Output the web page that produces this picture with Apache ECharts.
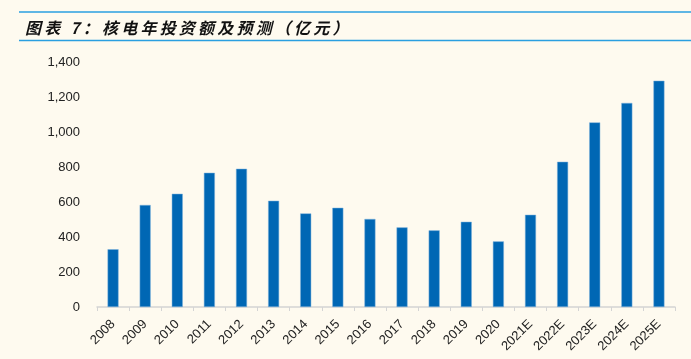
<!DOCTYPE html>
<html><head><meta charset="utf-8">
<script src="https://cdn.jsdelivr.net/npm/echarts@6/dist/echarts.min.js"></script>
<style>html,body{margin:0;padding:0;background:#FEFAEF;}#c{width:691px;height:359px;}</style>
</head><body><div id="c"></div>
<script>
const categories = ['2008','2009','2010','2011','2012','2013','2014','2015','2016','2017','2018','2019','2020','2021E','2022E','2023E','2024E','2025E'];
const values = [330, 583, 647, 767, 790, 607, 535, 567, 503, 455, 438, 487, 375, 527, 830, 1055, 1166, 1293];
const yTicks = [0, 200, 400, 600, 800, 1000, 1200, 1400];
const titleText = '图表 7：核电年投资额及预测（亿元）';

// spread characters slightly like the reference title
const spaced = Array.from(titleText).join('\u2009');

const chart = echarts.init(document.getElementById('c'), null, {renderer: 'canvas'});
chart.setOption({
  backgroundColor: '#FEFAEF',
  animation: false,
  title: {
    text: spaced, left: 20, top: 15,
    textStyle: {fontFamily: 'Noto Sans CJK SC', fontStyle: 'italic', fontWeight: 'bold', fontSize: 16, color: '#111'}
  },
  graphic: [
    {type: 'line', shape: {x1: 19, y1: 12, x2: 691, y2: 12}, style: {stroke: '#2A9FE0', lineWidth: 1.5}},
    {type: 'line', shape: {x1: 19, y1: 40.5, x2: 691, y2: 40.5}, style: {stroke: '#2A9FE0', lineWidth: 1.5}}
  ],
  grid: {left: 97, right: 16, top: 62, bottom: 52},
  xAxis: {
    type: 'category', data: categories,
    axisLine: {lineStyle: {color: '#D4D4D4', width: 1.5}},
    axisTick: {show: true, alignWithLabel: false, length: 4, lineStyle: {color: '#D4D4D4'}},
    axisLabel: {rotate: 45, fontFamily: 'Liberation Sans', fontSize: 13, color: '#222', margin: 15}
  },
  yAxis: {
    type: 'value', min: yTicks[0], max: yTicks[yTicks.length-1], interval: 200,
    axisLine: {show: false}, axisTick: {show: false}, splitLine: {show: false},
    axisLabel: {fontFamily: 'Liberation Sans', fontSize: 13, color: '#222', margin: 17,
      formatter: v => v.toLocaleString('en-US')}
  },
  series: [{
    type: 'bar', data: values, barWidth: 11,
    itemStyle: {color: '#0067B4', borderColor: '#7FB3DC', borderWidth: 0.5}
  }]
});
</script></body></html>
